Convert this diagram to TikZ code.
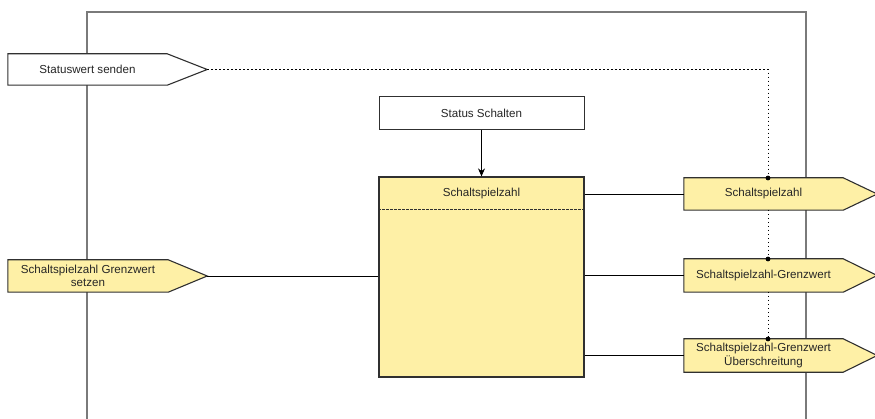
\documentclass[tikz,border=0pt]{standalone}
\usepackage{fontspec}
\setmainfont{Liberation Sans}
\usetikzlibrary{backgrounds,arrows.meta}
\definecolor{yel}{HTML}{FEF0A6}
\definecolor{frm}{HTML}{7A7A7A}
\definecolor{bd}{HTML}{303030}
\tikzset{
  txt/.style={rectangle, inner sep=0pt, align=center, text=black!85},
  pent/.style={draw=bd, line width=1.1pt, line join=miter},
  boxw/.style={rectangle, draw=bd, line width=1pt, fill=white, inner sep=0pt, minimum width=205pt, minimum height=33pt, text=black!85},
  mainbox/.style={rectangle, draw=bd, line width=1.2pt, fill=yel, inner sep=0pt, minimum width=205pt, minimum height=200pt},
  conn/.style={line width=0.8pt, black},
  dots/.style={line width=0.9pt, black, dash pattern=on 1.3pt off 2.7pt},
  jdot/.style={fill=black}
}
\begin{document}
\begin{tikzpicture}[x=1pt,y=-1pt,font=\fontsize{11.6}{13.4}\selectfont]
\useasboundingbox (0,0) rectangle (875,419);
% nodes (text parts)
\node[txt, minimum width=159pt, minimum height=31pt] (sw) at (87.5,69.5) {Statuswert senden};
\node[txt, minimum width=160pt, minimum height=32pt] (gs) at (88,276) {Schaltspielzahl Grenzwert\\setzen};
\node[txt, minimum width=159pt, minimum height=32pt] (o1) at (763.5,194) {Schaltspielzahl};
\node[txt, minimum width=159pt, minimum height=33pt] (o2) at (763.5,275.5) {Schaltspielzahl-Grenzwert};
\node[txt, minimum width=159pt, minimum height=33pt] (o3) at (763.5,355.5) {Schaltspielzahl-Grenzwert\\Überschreitung};
\coordinate (swt) at ([xshift=40pt]sw.east);
\coordinate (gst) at ([xshift=39pt]gs.east);
\begin{scope}[on background layer]
  % frame
  \draw[frm, line width=1.3pt] (87,419) -- (87,12) -- (806,12) -- (806,419);
  % pentagons
  \filldraw[pent, fill=white] (sw.north west) -- (sw.north east) -- (swt) -- (sw.south east) -- (sw.south west) -- cycle;
  \filldraw[pent, fill=yel] (gs.north west) -- (gs.north east) -- (gst) -- (gs.south east) -- (gs.south west) -- cycle;
  \foreach \o in {o1,o2,o3}{
    \filldraw[pent, fill=yel] (\o.north west) -- (\o.north east) -- ([xshift=34pt]\o.east) -- (\o.south east) -- (\o.south west) -- cycle;
  }
\end{scope}
\node[boxw] (ss) at (481.5,113.5) {Status Schalten};
\node[mainbox] (sz) at (481.5,277) {};
\node[txt] (szt) at (481.5,193.5) {Schaltspielzahl};
\draw[bd, line width=0.8pt, dash pattern=on 2.5pt off 1.5pt] ([yshift=-33pt]sz.north west) -- ([yshift=-33pt]sz.north east);
% connectors
\draw[conn, -{Stealth[length=8pt,width=7pt]}] (ss) -- (sz);
\draw[conn] (sz.east |- o1) -- (o1.west);
\draw[conn] (sz.east |- o2) -- (o2.west);
\draw[conn] (sz.east |- o3) -- (o3.west);
\draw[conn] (gst) -- (sz.west |- gst);
% dotted links
\coordinate (j1) at (768,178);
\coordinate (j1b) at (768,210);
\coordinate (j2) at (768,259);
\coordinate (j2b) at (768,292);
\coordinate (j3) at (768,339);
\draw[dots] (swt) -| (j1);
\draw[dots] (j1b) -- (j2);
\draw[dots] (j2b) -- (j3);
\foreach \j in {j1,j2,j3}{\fill[jdot] (\j) circle (2.4pt);}
\end{tikzpicture}
\end{document}
